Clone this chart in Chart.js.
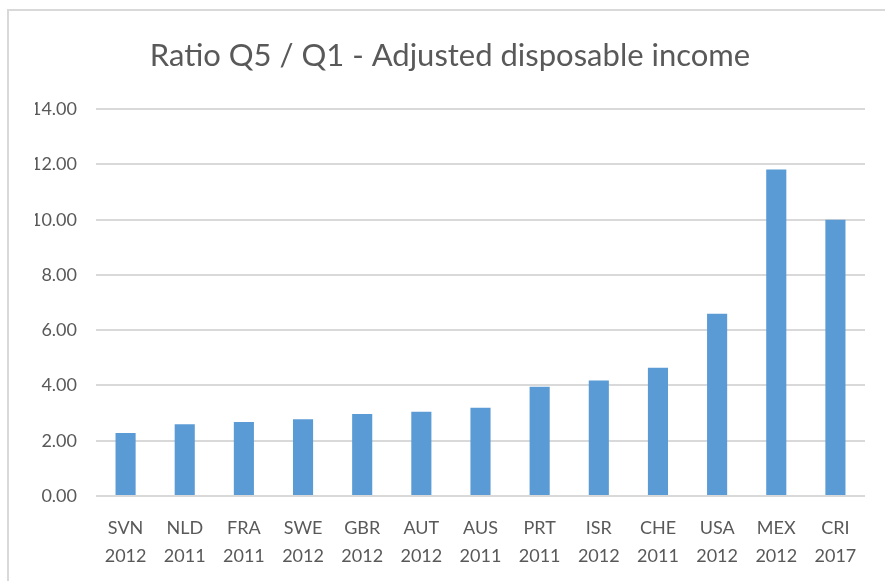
<!DOCTYPE html>
<html>
<head>
<meta charset="utf-8">
<script src="https://cdn.jsdelivr.net/npm/chart.js@4/dist/chart.umd.min.js"></script>
<style>
  body { margin: 0; background: #fff; }
  .frame { position: absolute; left: 7px; top: 9px; width: 900px; height: 600px; border: 2px solid #d9d9d9; }
  .wrap { position: absolute; left: 0; top: 0; width: 885px; height: 581px; }
</style>
</head>
<body>
<div class="frame"></div>
<div class="wrap"><canvas id="barChart"></canvas></div>
<script>
// ---------------- data ----------------
const countries = ['SVN', 'NLD', 'FRA', 'SWE', 'GBR', 'AUT', 'AUS', 'PRT', 'ISR', 'CHE', 'USA', 'MEX', 'CRI'];
const years = ['2012', '2011', '2011', '2012', '2012', '2012', '2011', '2011', '2012', '2011', '2012', '2012', '2017'];
const ratios = [2.28, 2.60, 2.68, 2.78, 2.97, 3.05, 3.19, 3.95, 4.18, 4.64, 6.60, 11.82, 10.00];
const yTicks = [0, 2, 4, 6, 8, 10, 12, 14];

const labels = countries.map((c, i) => [c, years[i]]);
const grey = '#595959';

const ctx = document.getElementById('barChart');

new Chart(ctx, {
  type: 'bar',
  data: {
    labels: labels,
    datasets: [{
      data: ratios,
      backgroundColor: '#5B9BD5',
      categoryPercentage: 1,
      barPercentage: 0.34
    }]
  },
  options: {
    responsive: true,
    maintainAspectRatio: false,
    animation: false,
    layout: { padding: { left: 35, right: 20, top: 0, bottom: 0 } },
    plugins: {
      legend: { display: false },
      tooltip: { enabled: false },
      title: {
        display: true,
        text: 'Ratio Q5 / Q1 - Adjusted disposable income',
        color: grey,
        font: { family: 'Lato', size: 31, weight: '400', lineHeight: 1.2 },
        padding: { top: 37, bottom: 35 }
      }
    },
    scales: {
      x: {
        grid: { display: false },
        border: { display: false },
        ticks: {
          color: grey,
          font: { family: 'Lato', size: 18, lineHeight: 1.55 },
          padding: 10,
          maxRotation: 0,
          autoSkip: false
        },
        afterFit(scale) { scale.height = 85; }
      },
      y: {
        min: 0,
        max: 14,
        afterBuildTicks(scale) { scale.ticks = yTicks.map(v => ({ value: v })); },
        grid: { color: '#d9d9d9', lineWidth: 2, drawTicks: false },
        border: { display: false },
        ticks: {
          color: grey,
          font: { family: 'Lato', size: 18 },
          padding: 19,
          callback: v => v.toFixed(2)
        },
        afterFit(scale) { scale.width = 61; }
      }
    }
  }
});
</script>
</body>
</html>
